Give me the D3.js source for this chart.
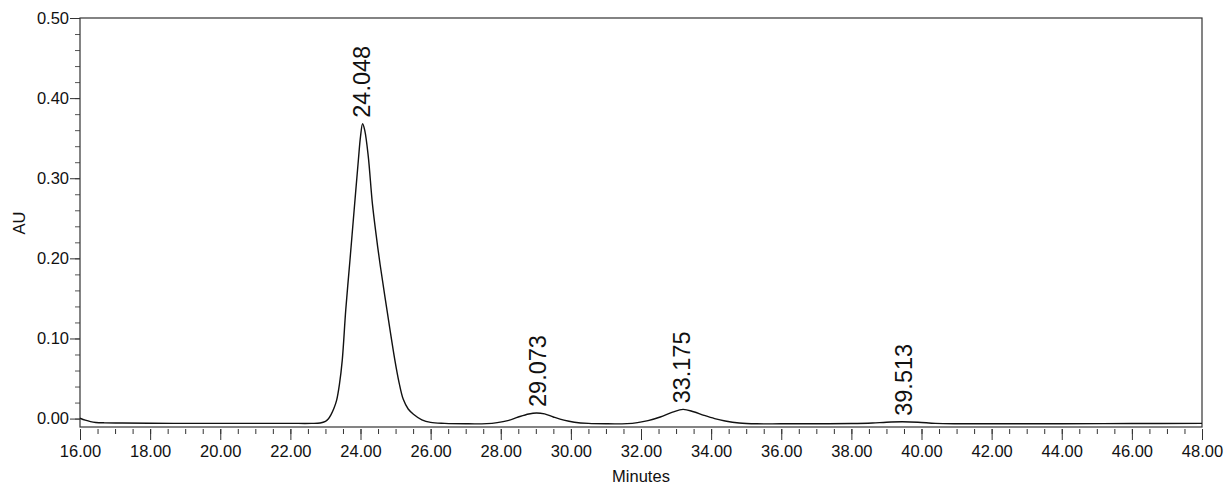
<!DOCTYPE html>
<html>
<head>
<meta charset="utf-8">
<script src="https://cdn.jsdelivr.net/npm/d3@7"></script>
<style>
  body { margin: 0; background: #fff; }
  svg { display: block; }
  text { font-family: "Liberation Sans", Arial, sans-serif; fill: #111; }
</style>
</head>
<body>
<svg id="chart" width="1226" height="486"></svg>
<script>
// trace (minutes, AU)
const times = [16.00, 16.15, 16.30, 16.45, 16.70, 17.20, 18.00, 19.00, 20.00, 21.00, 22.00, 22.60,
  22.85, 23.00, 23.08, 23.16, 23.24, 23.32, 23.40, 23.48, 23.58, 23.70, 23.82, 23.94, 24.00, 24.06, 24.12, 24.22, 24.34,
  24.45, 24.56, 24.76, 24.98, 25.10, 25.22, 25.36, 25.51, 25.75, 26.00, 26.40, 27.00, 27.60, 27.90, 28.20, 28.50, 28.80,
  29.02, 29.25, 29.50, 29.80, 30.10, 30.50, 31.00, 31.60, 31.90, 32.20, 32.55, 32.90, 33.20, 33.50,
  33.80, 34.10, 34.40, 34.80, 35.30, 36.00, 37.00, 38.00, 38.60, 39.00, 39.45, 39.90, 40.40, 41.00,
  42.00, 44.00, 46.00, 48.00];
const au = [0.0004, -0.002, -0.0038, -0.0048, -0.0053, -0.0055, -0.0058, -0.006, -0.006, -0.006, -0.006, -0.006,
  -0.0055, -0.0035, -0.0005, 0.005, 0.0125, 0.023, 0.043, 0.073, 0.136, 0.198, 0.261, 0.323, 0.352, 0.368, 0.360, 0.328, 0.268,
  0.228, 0.192, 0.134, 0.073, 0.045, 0.024, 0.012, 0.0055, -0.0015, -0.0048, -0.006, -0.0065, -0.0063, -0.005, -0.0025, 0.002, 0.0058,
  0.007, 0.0058, 0.002, -0.002, -0.0045, -0.006, -0.0065, -0.0063, -0.005, -0.0025, 0.002, 0.008, 0.0115, 0.0085,
  0.004, 0.0, -0.003, -0.0055, -0.0065, -0.0065, -0.0065, -0.0062, -0.0055, -0.0045, -0.004, -0.0045, -0.006, -0.0065,
  -0.0065, -0.0065, -0.0062, -0.006];

const peakTimes = [24.048, 29.073, 33.175, 39.513];
const peakLabels = ['24.048', '29.073', '33.175', '39.513'];

const xMajor = d3.range(16, 48.001, 2);
const yMajor = [0.00, 0.10, 0.20, 0.30, 0.40, 0.50];

const svg = d3.select('#chart');
const margin = { top: 18, right: 24, bottom: 59, left: 80 };
const width = 1226 - margin.left - margin.right;
const height = 486 - margin.top - margin.bottom;

const x = d3.scaleLinear().domain([16, 48]).range([0, width]);
const y = d3.scaleLinear().domain([-0.0105, 0.5]).range([height, 0]);

const g = svg.append('g')
  .attr('transform', 'translate(' + margin.left + ',' + margin.top + ')');

// x axis: ticks sit 2px below the frame
const xAxis = g.append('g')
  .attr('transform', 'translate(0,' + (height + 2) + ')')
  .call(d3.axisBottom(x).tickValues(d3.range(16, 48.001, 0.5)).tickSize(5).tickFormat(''));
xAxis.select('.domain').remove();
xAxis.selectAll('line').attr('stroke', '#333');

const xAxisMajor = g.append('g')
  .attr('transform', 'translate(0,' + (height + 2) + ')')
  .call(d3.axisBottom(x).tickValues(xMajor).tickSize(11).tickPadding(5).tickFormat(d3.format('.2f')));
xAxisMajor.select('.domain').remove();
xAxisMajor.selectAll('line').attr('stroke', '#333');
xAxisMajor.selectAll('text').style('font-size', '16.5px').style('font-family', '"Liberation Sans", Arial, sans-serif').attr('fill', '#111');

// y axis
const yAxis = g.append('g')
  .call(d3.axisLeft(y).tickValues(d3.range(0, 0.5001, 0.02)).tickSize(5).tickFormat(''));
yAxis.select('.domain').remove();
yAxis.selectAll('line').attr('stroke', '#555');

const yAxisMajor = g.append('g')
  .call(d3.axisLeft(y).tickValues(yMajor).tickSize(10).tickPadding(1).tickFormat(d3.format('.2f')));
yAxisMajor.select('.domain').remove();
yAxisMajor.selectAll('line').attr('stroke', '#333');
yAxisMajor.selectAll('text').style('font-size', '16.5px').style('font-family', '"Liberation Sans", Arial, sans-serif').attr('fill', '#111');

// frame
g.append('rect')
  .attr('x', 0).attr('y', 0)
  .attr('width', width).attr('height', height)
  .attr('fill', 'none')
  .attr('stroke', '#333')
  .attr('stroke-width', 1.2);

// trace
const trace = times.map((t, i) => [t, au[i]]);
g.append('path')
  .datum(trace)
  .attr('fill', 'none')
  .attr('stroke', '#111')
  .attr('stroke-width', 1.4)
  .attr('d', d3.line().x(d => x(d[0])).y(d => y(d[1])).curve(d3.curveCatmullRom.alpha(0.5)));

// peak labels, placed just above the local maximum of the trace
peakTimes.forEach((pt, i) => {
  const near = trace.filter(d => Math.abs(d[0] - pt) < 0.35);
  const top = d3.max(near, d => d[1]);
  const px = x(pt);
  const py = y(top) - 6;
  g.append('text')
    .attr('transform', 'translate(' + (px + 8) + ',' + py + ') rotate(-90)')
    .attr('text-anchor', 'start')
    .style('font-size', '23.5px')
    .text(peakLabels[i]);
});

// axis titles
svg.append('text')
  .attr('x', margin.left + width / 2)
  .attr('y', 482)
  .attr('text-anchor', 'middle')
  .style('font-size', '16.5px')
  .text('Minutes');

svg.append('text')
  .attr('transform', 'translate(25,223) rotate(-90)')
  .attr('text-anchor', 'middle')
  .style('font-size', '16.5px')
  .text('AU');
</script>
</body>
</html>
